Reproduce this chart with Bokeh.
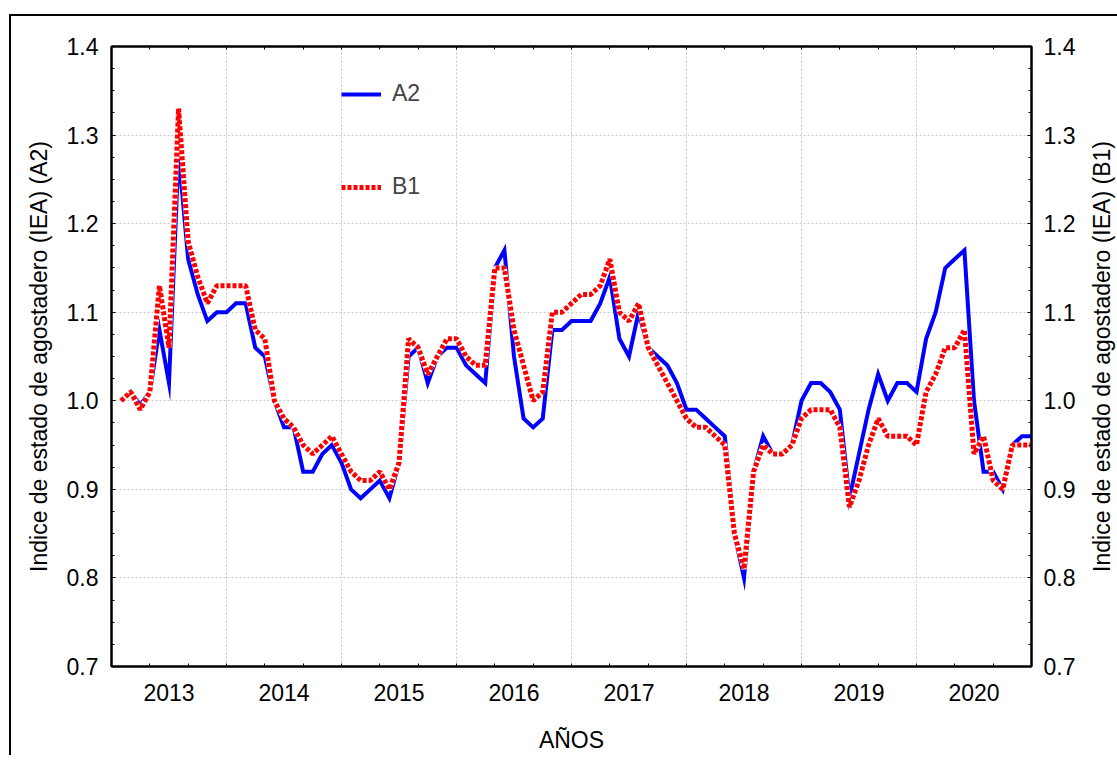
import math

from bokeh.core.properties import value
from bokeh.embed import file_html
from bokeh.layouts import row
from bokeh.resources import INLINE
from bokeh.plotting import figure
from bokeh.models import (ColumnDataSource, Range1d, LinearAxis, FixedTicker,
                          PrintfTickFormatter, Legend, LegendItem)

# monthly index, Jan 2013 = 1 ... Dec 2020 = 96
months = list(range(1, 97))
years = ["2013", "2014", "2015", "2016", "2017", "2018", "2019", "2020"]

a2 = [1.00, 1.01, 0.995, 1.01, 1.08, 1.02, 1.28, 1.16, 1.12, 1.09, 1.10, 1.10,
      1.11, 1.11, 1.06, 1.05, 1.00, 0.97, 0.97, 0.92, 0.92, 0.94, 0.95, 0.93,
      0.90, 0.89, 0.90, 0.91, 0.89, 0.93, 1.05, 1.06, 1.02, 1.05, 1.06, 1.06,
      1.04, 1.03, 1.02, 1.15, 1.17, 1.05, 0.98, 0.97, 0.98, 1.08, 1.08, 1.09,
      1.09, 1.09, 1.11, 1.14, 1.07, 1.05, 1.10, 1.06, 1.05, 1.04, 1.02, 0.99,
      0.99, 0.98, 0.97, 0.96, 0.85, 0.80, 0.92, 0.96, 0.94, 0.94, 0.95, 1.00,
      1.02, 1.02, 1.01, 0.99, 0.89, 0.94, 0.99, 1.03, 1.00, 1.02, 1.02, 1.01,
      1.07, 1.10, 1.15, 1.16, 1.17, 1.00, 0.92, 0.92, 0.90, 0.95, 0.96, 0.96]

b1 = [1.00, 1.01, 0.99, 1.01, 1.13, 1.06, 1.33, 1.18, 1.14, 1.11, 1.13, 1.13,
      1.13, 1.13, 1.08, 1.07, 1.00, 0.98, 0.97, 0.95, 0.94, 0.95, 0.96, 0.94,
      0.92, 0.91, 0.91, 0.92, 0.90, 0.93, 1.07, 1.06, 1.03, 1.05, 1.07, 1.07,
      1.05, 1.04, 1.04, 1.15, 1.15, 1.08, 1.04, 1.00, 1.01, 1.10, 1.10, 1.11,
      1.12, 1.12, 1.13, 1.16, 1.10, 1.09, 1.11, 1.06, 1.04, 1.02, 1.00, 0.98,
      0.97, 0.97, 0.96, 0.95, 0.85, 0.81, 0.92, 0.95, 0.94, 0.94, 0.95, 0.98,
      0.99, 0.99, 0.99, 0.97, 0.88, 0.91, 0.95, 0.98, 0.96, 0.96, 0.96, 0.95,
      1.01, 1.03, 1.06, 1.06, 1.08, 0.94, 0.96, 0.91, 0.90, 0.95, 0.95, 0.95]

y_ticks = [0.7, 0.8, 0.9, 1.0, 1.1, 1.2, 1.3, 1.4]

FONT = "Liberation Sans"
FS = "23px"
RIGHT_LABEL = "Indice de estado de agostadero (IEA) (B1)"

src = ColumnDataSource(dict(month=months, a2=a2, b1=b1))

p = figure(frame_width=920, frame_height=620,
           x_range=Range1d(0, 96), y_range=Range1d(0.7, 1.4),
           min_border_left=100, min_border_right=55,
           min_border_top=30, min_border_bottom=84,
           output_backend="svg", toolbar_location=None)
p.outline_line_color = "black"
p.outline_line_width = 2
p.background_fill_color = "white"
p.border_fill_color = "white"

year_mid = [12 * i + 6 for i in range(len(years))]
minor_x = list(range(0, 97, 4))
minor_y = [round(0.7 + 0.025 * k, 3) for k in range(29)]


def style_axis(ax):
    ax.axis_line_color = "black"
    ax.axis_line_width = 2
    ax.major_tick_out = 0
    ax.minor_tick_out = 0
    ax.major_tick_in = 4
    ax.minor_tick_in = 3
    ax.major_tick_line_color = "black"
    ax.minor_tick_line_color = "black"
    ax.major_label_text_font = FONT
    ax.major_label_text_font_size = FS
    ax.major_label_text_color = "black"
    ax.axis_label_text_font = FONT
    ax.axis_label_text_font_size = FS
    ax.axis_label_text_font_style = "normal"
    ax.axis_label_text_color = "black"


# bottom axis: year labels centred in each year, ticks every 4 months
xa = p.xaxis[0]
style_axis(xa)
xa.ticker = FixedTicker(ticks=year_mid, minor_ticks=minor_x)
xa.major_label_overrides = {m: y for m, y in zip(year_mid, years)}
xa.major_tick_line_color = None
xa.major_label_standoff = 17
xa.axis_label = "AÑOS"
xa.axis_label_standoff = 23

top = LinearAxis(ticker=FixedTicker(ticks=[], minor_ticks=minor_x))
style_axis(top)
p.add_layout(top, "above")

ya = p.yaxis[0]
style_axis(ya)
ya.ticker = FixedTicker(ticks=y_ticks, minor_ticks=minor_y)
ya.formatter = PrintfTickFormatter(format="%.1f")
ya.major_label_standoff = 13
ya.axis_label = "Indice de estado de agostadero (IEA) (A2)"
ya.axis_label_standoff = 12

right = LinearAxis(ticker=FixedTicker(ticks=y_ticks, minor_ticks=minor_y),
                   formatter=PrintfTickFormatter(format="%.1f"))
style_axis(right)
right.major_label_standoff = 12
p.add_layout(right, "right")

p.xgrid.ticker = FixedTicker(ticks=[12, 24, 36, 48, 60, 72, 84])
p.xgrid.grid_line_color = "#c8c8c8"
p.xgrid.grid_line_dash = "2 2"
p.xgrid.grid_line_width = 1
p.ygrid.grid_line_color = "#c8c8c8"
p.ygrid.grid_line_dash = "2 2"
p.ygrid.grid_line_width = 1

r_a2 = p.line("month", "a2", source=src, line_color="#0000ff", line_width=4,
              line_join="miter")
r_b1_bg = p.line("month", "b1", source=src, line_color="white", line_width=5)
r_b1 = p.line("month", "b1", source=src, line_color="#ff0000", line_width=5,
              line_dash="4 2")

legend = Legend(items=[LegendItem(label="A2", renderers=[r_a2]),
                       LegendItem(label="B1", renderers=[r_b1_bg, r_b1])],
                location=(230, 466), padding=0, margin=0, spacing=66,
                glyph_width=40, glyph_height=20, label_height=20,
                label_standoff=11, border_line_color=None,
                background_fill_alpha=0, label_text_font=FONT,
                label_text_font_size=FS)
p.add_layout(legend)

# narrow strip on the right holding the B1 axis title, read bottom to top
side = figure(frame_width=31, frame_height=620,
              x_range=Range1d(0, 1), y_range=Range1d(0, 1),
              min_border_left=0, min_border_right=0,
              min_border_top=30, min_border_bottom=84,
              x_axis_type=None, y_axis_type=None,
              output_backend="svg", toolbar_location=None)
side.outline_line_color = None
side.background_fill_color = "white"
side.border_fill_color = "white"
side.text(x=[0.5], y=[0.5], text=[RIGHT_LABEL], angle=math.pi / 2,
          text_align="center", text_baseline="middle",
          text_font=value(FONT), text_font_size=value(FS), text_color="black")

layout = row(p, side, spacing=0)
layout.styles = {"margin-top": "14px", "margin-left": "9px",
                 "border-left": "2px solid black",
                 "border-top": "2px solid black"}

open("out.html", "w").write(file_html(layout, INLINE))
